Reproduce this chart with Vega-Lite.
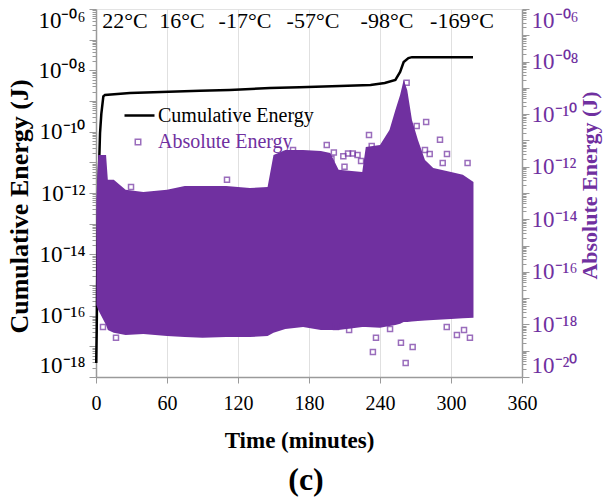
{
 "$schema": "https://vega.github.io/schema/vega-lite/v6.json",
 "width": 426,
 "height": 368,
 "autosize": {"type": "none"},
 "padding": {"left": 96, "top": 9, "right": 81, "bottom": 124},
 "background": "white",
 "config": {
  "font": "Liberation Serif",
  "view": {"stroke": "#e3e3e3", "strokeWidth": 1},
  "axis": {"domainColor": "#9a9a9a", "tickColor": "#9a9a9a", "labelFont": "Liberation Serif", "titleFont": "Liberation Serif", "labelFontSize": 20, "titleFontSize": 21, "titleFontWeight": "bold", "titleColor": "black", "labelColor": "black", "grid": false, "labelOverlap": false, "labelFlush": false, "domainWidth": 1.5, "tickWidth": 1}
 },
 "title": {"text": "(c)", "orient": "bottom", "fontSize": 32, "fontWeight": "bold", "font": "Liberation Serif", "offset": 13, "anchor": "middle", "dx": -3, "color": "black"},
 "datasets": {
  "cum": [
   {"t": 0.2, "e": 2.88e-18}, {"t": 0.6, "e": 3.16e-17}, {"t": 1.2, "e": 1e-14}, {"t": 1.9, "e": 1e-12}, {"t": 3.4, "e": 8.9e-11}, {"t": 4.5, "e": 3.8e-10}, {"t": 6.2, "e": 1.41e-9}, {"t": 7.6, "e": 1.58e-9}, {"t": 28.7, "e": 1.82e-9}, {"t": 87.9, "e": 2.14e-9}, {"t": 113, "e": 2.29e-9}, {"t": 147, "e": 2.63e-9}, {"t": 172, "e": 2.82e-9}, {"t": 206, "e": 3.09e-9}, {"t": 232, "e": 3.31e-9}, {"t": 244, "e": 3.89e-9}, {"t": 253, "e": 4.9e-9}, {"t": 257, "e": 8.91e-9}, {"t": 260, "e": 1.86e-8}, {"t": 264, "e": 2.51e-8}, {"t": 267, "e": 2.69e-8}, {"t": 318.6, "e": 2.69e-8}
  ],
  "band": [
   {"t": 0.3, "hi": 5.37e-14, "lo": 5.5e-18}, {"t": 1.9, "hi": 2.82e-12, "lo": 3.55e-18}, {"t": 8.5, "hi": 2.82e-12, "lo": 9.55e-19}, {"t": 10, "hi": 3.16e-13, "lo": 6.17e-19}, {"t": 15, "hi": 3.16e-13, "lo": 4.79e-19}, {"t": 25, "hi": 1.32e-13, "lo": 3.98e-19}, {"t": 40, "hi": 1.1e-13, "lo": 4.37e-19}, {"t": 60, "hi": 1.32e-13, "lo": 3.63e-19}, {"t": 75, "hi": 1.86e-13, "lo": 3.31e-19}, {"t": 90, "hi": 1.86e-13, "lo": 3.09e-19}, {"t": 110, "hi": 1.86e-13, "lo": 3.31e-19}, {"t": 130, "hi": 1.55e-13, "lo": 3.31e-19}, {"t": 145, "hi": 1.7e-13, "lo": 3.63e-19}, {"t": 150, "hi": 2.82e-12, "lo": 4.79e-19}, {"t": 160, "hi": 4.37e-12, "lo": 6.76e-19}, {"t": 175, "hi": 4.37e-12, "lo": 7.94e-19}, {"t": 190, "hi": 3.98e-12, "lo": 6.17e-19}, {"t": 198, "hi": 3.31e-12, "lo": 6.17e-19}, {"t": 205, "hi": 7.59e-13, "lo": 6.17e-19}, {"t": 225, "hi": 6.31e-13, "lo": 7.94e-19}, {"t": 228, "hi": 5.62e-12, "lo": 7.94e-19}, {"t": 240, "hi": 6.76e-12, "lo": 7.41e-19}, {"t": 248, "hi": 2.51e-11, "lo": 8.71e-19}, {"t": 253, "hi": 1.45e-10, "lo": 9.55e-19}, {"t": 257, "hi": 5.37e-10, "lo": 1.05e-18}, {"t": 260, "hi": 2e-9, "lo": 1.23e-18}, {"t": 263, "hi": 8.32e-10, "lo": 1.23e-18}, {"t": 267, "hi": 6.03e-11, "lo": 1.3e-18}, {"t": 272, "hi": 1.05e-11, "lo": 1.35e-18}, {"t": 278, "hi": 1.82e-12, "lo": 1.4e-18}, {"t": 285, "hi": 8.91e-13, "lo": 1.48e-18}, {"t": 300, "hi": 6.31e-13, "lo": 1.62e-18}, {"t": 310, "hi": 4.9e-13, "lo": 1.7e-18}, {"t": 319, "hi": 2.63e-13, "lo": 1.78e-18}
  ],
  "pts": [
   {"t": 29.6, "e": 1.7e-13}, {"t": 110.7, "e": 3.16e-13}, {"t": 166.5, "e": 4.37e-12}, {"t": 195, "e": 6.76e-12}, {"t": 230.7, "e": 1.62e-11}, {"t": 233, "e": 6.17e-12}, {"t": 279, "e": 5.01e-11}, {"t": 271, "e": 3.55e-11}, {"t": 290.7, "e": 1.05e-11}, {"t": 296.6, "e": 3.02e-12}, {"t": 282, "e": 3.02e-12}, {"t": 278, "e": 4.37e-12}, {"t": 314, "e": 1.38e-12}, {"t": 224, "e": 1.66e-12}, {"t": 293, "e": 1.38e-12}, {"t": 262.5, "e": 1.55e-9}, {"t": 16.9, "e": 3.09e-19}, {"t": 5.9, "e": 7.94e-19}, {"t": 234, "e": 8.91e-20}, {"t": 236.6, "e": 3.09e-19}, {"t": 257.7, "e": 2e-19}, {"t": 261.7, "e": 3.39e-20}, {"t": 267.6, "e": 1.38e-19}, {"t": 305, "e": 3.98e-19}, {"t": 311, "e": 6.17e-19}, {"t": 316, "e": 3.09e-19}, {"t": 202.8, "e": 7.94e-19}, {"t": 213.9, "e": 6.17e-19}, {"t": 296.4, "e": 7.94e-19}, {"t": 248.5, "e": 6.76e-19}, {"t": 201, "e": 3.5e-12}, {"t": 209, "e": 2.5e-12}, {"t": 213, "e": 3.2e-12}, {"t": 217, "e": 3.2e-12}, {"t": 221, "e": 2.8e-12}, {"t": 199, "e": 2e-12}, {"t": 210, "e": 1e-12}
  ],
  "temps": [
   {"t": 24.5, "label": "22°C"}, {"t": 72.7, "label": "16°C"}, {"t": 125.9, "label": "-17°C"}, {"t": 183.4, "label": "-57°C"}, {"t": 245.9, "label": "-98°C"}, {"t": 309.3, "label": "-169°C"}
  ]
 },
 "layer": [
  {
   "layer": [
    {
     "data": {"name": "cum"},
     "mark": {"type": "line", "color": "black", "strokeWidth": 2.5},
     "encoding": {
      "x": {"field": "t", "type": "quantitative", "scale": {"domain": [0, 360], "nice": false},
       "axis": {"title": "Time (minutes)", "values": [0, 15, 30, 45, 60, 75, 90, 105, 120, 135, 150, 165, 180, 195, 210, 225, 240, 255, 270, 285, 300, 315, 330, 345, 360],
        "labelExpr": "datum.value % 60 == 0 ? datum.label : ''", "grid": true, "gridColor": "#e0e0e0",
        "gridOpacity": {"condition": {"test": "datum.value % 60 == 0 && datum.value > 0 && datum.value < 360", "value": 1}, "value": 0},
        "tickSize": {"condition": {"test": "datum.value % 60 == 0", "value": 6}, "value": -5},
        "labelPadding": 10, "titlePadding": 16, "titleFontSize": 23, "titleX": 203}},
      "y": {"field": "e", "type": "quantitative", "scale": {"type": "log", "domain": [1e-18, 1e-6], "nice": false},
       "axis": {"title": "Cumulative Energy (J)", "values": [1e-18,2e-18,3e-18,4e-18,5e-18,6e-18,7e-18,8e-18,9e-18,1e-17,2e-17,3e-17,4e-17,5e-17,6e-17,7e-17,8e-17,9e-17,1e-16,2e-16,3e-16,4e-16,5e-16,6e-16,7e-16,8e-16,9e-16,1e-15,2e-15,3e-15,4e-15,5e-15,6e-15,7e-15,8e-15,9e-15,1e-14,2e-14,3e-14,4e-14,5e-14,6e-14,7e-14,8e-14,9e-14,1e-13,2e-13,3e-13,4e-13,5e-13,6e-13,7e-13,8e-13,9e-13,1e-12,2e-12,3e-12,4e-12,5e-12,6e-12,7e-12,8e-12,9e-12,1e-11,2e-11,3e-11,4e-11,5e-11,6e-11,7e-11,8e-11,9e-11,1e-10,2e-10,3e-10,4e-10,5e-10,6e-10,7e-10,8e-10,9e-10,1e-9,2e-9,3e-9,4e-9,5e-9,6e-9,7e-9,8e-9,9e-9,1e-8,2e-8,3e-8,4e-8,5e-8,6e-8,7e-8,8e-8,9e-8,1e-7,2e-7,3e-7,4e-7,5e-7,6e-7,7e-7,8e-7,9e-7,1e-6],
        "labelExpr": "abs(datum.value/pow(10,round(log(datum.value)/LN10))-1)<0.01 && round(log(datum.value)/LN10)%2==0 ? '10⁻' + ['⁰⁶','⁰⁸','¹⁰','¹²','¹⁴','¹⁶','¹⁸','²⁰'][(-round(log(datum.value)/LN10)-6)/2] : ''",
        "tickSize": {"condition": {"test": "abs(datum.value/pow(10,round(log(datum.value)/LN10))-1)<0.01", "value": 7}, "value": 4},
        "labelFontSize": 23, "labelPadding": 4, "labelFlush": true, "labelFlushOffset": 0, "titlePadding": 5, "titleFontSize": 26, "titleY": 197}},
      "stroke": {"datum": "Cumulative Energy", "type": "nominal", "scale": {"range": ["black"]},
       "legend": {"title": null, "orient": "none", "legendX": 27, "legendY": 90, "symbolType": "stroke", "symbolSize": 900, "symbolStrokeWidth": 2.5, "labelFontSize": 20, "labelFont": "Liberation Serif", "labelOffset": 2, "padding": 0, "labelColor": "black"}}
     }
    },
    {
     "data": {"name": "temps"},
     "mark": {"type": "text", "fontSize": 22, "font": "Liberation Serif", "baseline": "middle", "color": "black"},
     "encoding": {
      "x": {"field": "t", "type": "quantitative"},
      "y": {"datum": 4.07e-7, "type": "quantitative"},
      "text": {"field": "label"}
     }
    }
   ]
  },
  {
   "layer": [
    {
     "data": {"name": "band"},
     "mark": {"type": "area", "color": "#7030A0", "opacity": 1},
     "encoding": {
      "x": {"field": "t", "type": "quantitative"},
      "y": {"field": "hi", "type": "quantitative", "scale": {"type": "log", "domain": [1e-20, 1e-6], "nice": false},
       "axis": {"orient": "right", "title": "Absolute Energy (J)", "titleColor": "#7030A0", "labelColor": "#7030A0", "titleAngle": 270, "titleBaseline": "top",
        "values": [1e-20,2e-20,3e-20,4e-20,5e-20,6e-20,7e-20,8e-20,9e-20,1e-19,2e-19,3e-19,4e-19,5e-19,6e-19,7e-19,8e-19,9e-19,1e-18,2e-18,3e-18,4e-18,5e-18,6e-18,7e-18,8e-18,9e-18,1e-17,2e-17,3e-17,4e-17,5e-17,6e-17,7e-17,8e-17,9e-17,1e-16,2e-16,3e-16,4e-16,5e-16,6e-16,7e-16,8e-16,9e-16,1e-15,2e-15,3e-15,4e-15,5e-15,6e-15,7e-15,8e-15,9e-15,1e-14,2e-14,3e-14,4e-14,5e-14,6e-14,7e-14,8e-14,9e-14,1e-13,2e-13,3e-13,4e-13,5e-13,6e-13,7e-13,8e-13,9e-13,1e-12,2e-12,3e-12,4e-12,5e-12,6e-12,7e-12,8e-12,9e-12,1e-11,2e-11,3e-11,4e-11,5e-11,6e-11,7e-11,8e-11,9e-11,1e-10,2e-10,3e-10,4e-10,5e-10,6e-10,7e-10,8e-10,9e-10,1e-9,2e-9,3e-9,4e-9,5e-9,6e-9,7e-9,8e-9,9e-9,1e-8,2e-8,3e-8,4e-8,5e-8,6e-8,7e-8,8e-8,9e-8,1e-7,2e-7,3e-7,4e-7,5e-7,6e-7,7e-7,8e-7,9e-7,1e-6],
        "labelExpr": "abs(datum.value/pow(10,round(log(datum.value)/LN10))-1)<0.01 && round(log(datum.value)/LN10)%2==0 ? '10⁻' + ['⁰⁶','⁰⁸','¹⁰','¹²','¹⁴','¹⁶','¹⁸','²⁰'][(-round(log(datum.value)/LN10)-6)/2] : ''",
        "tickSize": {"condition": {"test": "abs(datum.value/pow(10,round(log(datum.value)/LN10))-1)<0.01", "value": 7}, "value": 4},
        "labelFontSize": 23, "labelPadding": 2, "labelFlush": true, "labelFlushOffset": 0, "titlePadding": 1, "titleFontSize": 22, "titleY": 176}},
      "y2": {"field": "lo"}
     }
    },
    {
     "data": {"name": "pts"},
     "mark": {"type": "point", "shape": "square", "filled": false, "size": 25, "strokeWidth": 1.5},
     "encoding": {
      "x": {"field": "t", "type": "quantitative"},
      "y": {"field": "e", "type": "quantitative"},
      "color": {"datum": "Absolute Energy", "type": "nominal", "scale": {"range": ["#7030A0"]},
       "legend": {"title": null, "orient": "none", "legendX": 32, "legendY": 123, "symbolType": "square", "symbolSize": 30, "symbolStrokeWidth": 1.5, "symbolFillColor": "transparent", "labelColor": "#7030A0", "labelFontSize": 20, "labelFont": "Liberation Serif", "labelOffset": 10, "padding": 0}}
     }
    }
   ]
  }
 ],
 "resolve": {"scale": {"y": "independent", "color": "independent", "stroke": "independent"}}
}
